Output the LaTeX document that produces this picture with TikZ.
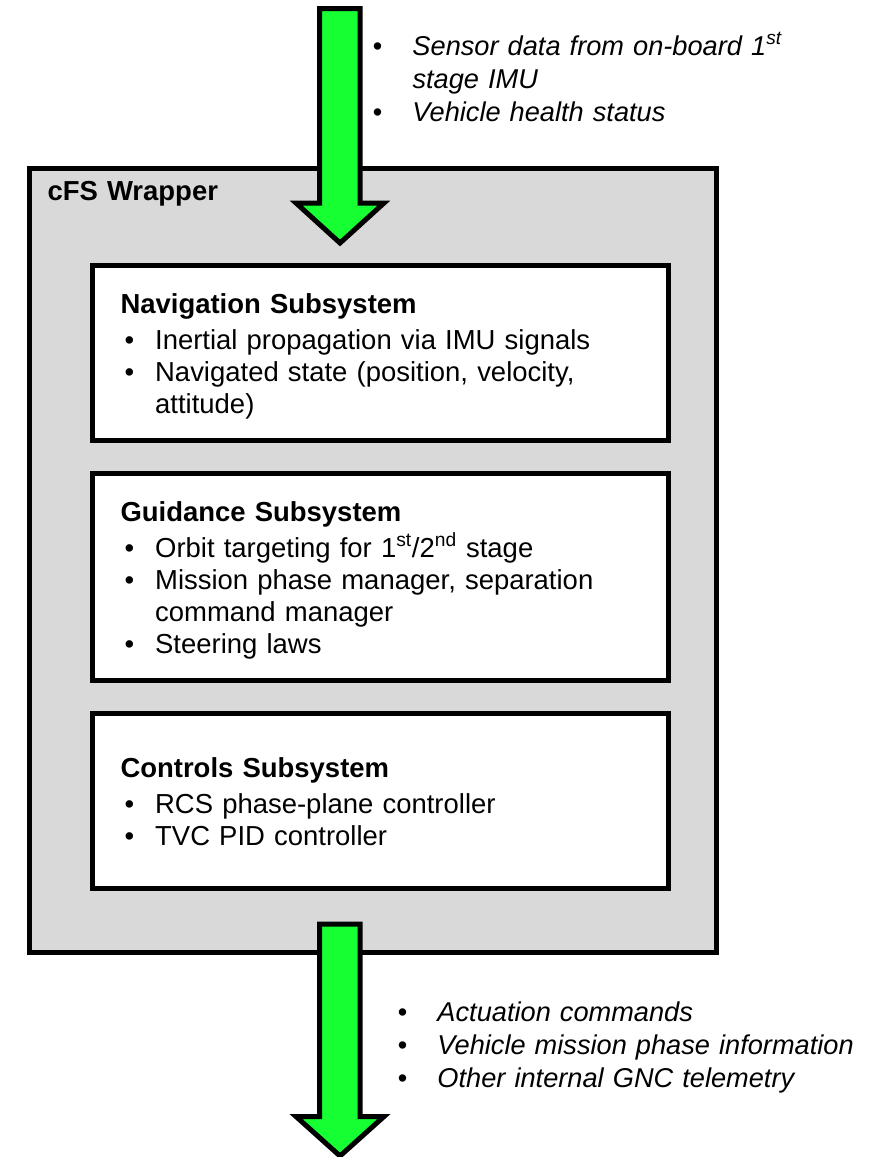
\documentclass[tikz,border=0pt]{standalone}
\usepackage{fontspec}
\setmainfont{Liberation Sans}

\newcommand{\bitem}[1]{\hangindent=26pt\hangafter=1\noindent\hbox to 26pt{\hskip3pt\textbullet\hfil}#1\par}
\newcommand{\oitem}[1]{\hangindent=30pt\hangafter=1\noindent\hbox to 30pt{\textbullet\hfil}#1\par}

\tikzset{every picture/.style={line width=3.75pt}}
\tikzset{
  boxtext/.style={anchor=base west, inner sep=0pt, text width=430pt, align=left, font=\fontsize{20.6}{24}\selectfont},
  flowtext/.style={boxtext, font=\fontsize{20.4}{25}\selectfont\itshape},
}

\begin{document}
\begin{tikzpicture}[x=0.75pt,y=0.75pt,yscale=-1,xscale=1]
	\useasboundingbox (0,0) rectangle (882,1157);

	%Shape: Rectangle [cFS wrapper]
	\draw  [fill={rgb, 255:red, 217; green, 217; blue, 217 }] (29,168.5) rectangle (716.5,952.5) ;
	%Shape: Rectangle [navigation]
	\draw  [fill={rgb, 255:red, 255; green, 255; blue, 255 }] (92.5,265) rectangle (668.5,440) ;
	%Shape: Rectangle [guidance]
	\draw  [fill={rgb, 255:red, 255; green, 255; blue, 255 }] (92.5,473) rectangle (668.5,680) ;
	%Shape: Rectangle [controls]
	\draw  [fill={rgb, 255:red, 255; green, 255; blue, 255 }] (92.5,713) rectangle (668.5,888.5) ;

	%Shape: Down Arrow [input]
	\draw  [fill={rgb, 255:red, 22; green, 255; blue, 50 }] (319.5,8.5) -- (360,8.5) -- (360,203) -- (384,203) -- (340,243) -- (296,203) -- (319.5,203) -- cycle ;
	%Shape: Down Arrow [output]
	\draw  [fill={rgb, 255:red, 22; green, 255; blue, 50 }] (319.5,924) -- (360,924) -- (360,1116.5) -- (384,1116.5) -- (340,1156) -- (296,1116.5) -- (319.5,1116.5) -- cycle ;

	% Text Node
	\draw (45,200) node [boxtext] (wraplbl) {\textbf{cFS Wrapper}};
	% Text Node
	\draw (370,55) node [flowtext] (intxt) {\oitem{Sensor data from on-board 1\textsuperscript{st}\newline stage IMU}\oitem{Vehicle health status}};
	% Text Node
	\draw (118,313) node [boxtext] (navtxt) {\textbf{Navigation Subsystem}\par\vspace{3pt}\bitem{Inertial propagation via IMU signals}\bitem{Navigated state (position, velocity,\newline attitude)}};
	% Text Node
	\draw (118,521) node [boxtext] (guidtxt) {\textbf{Guidance Subsystem}\par\vspace{3pt}\bitem{Orbit targeting for 1\textsuperscript{st}/2\textsuperscript{nd} stage}\bitem{Mission phase manager, separation\newline command manager}\bitem{Steering laws}};
	% Text Node
	\draw (118,777) node [boxtext] (ctrltxt) {\textbf{Controls Subsystem}\par\vspace{3pt}\bitem{RCS phase-plane controller}\bitem{TVC PID controller}};
	% Text Node
	\draw (395,1021) node [flowtext] (outtxt) {\oitem{Actuation commands}\oitem{Vehicle mission phase information}\oitem{Other internal GNC telemetry}};

\end{tikzpicture}
\end{document}
